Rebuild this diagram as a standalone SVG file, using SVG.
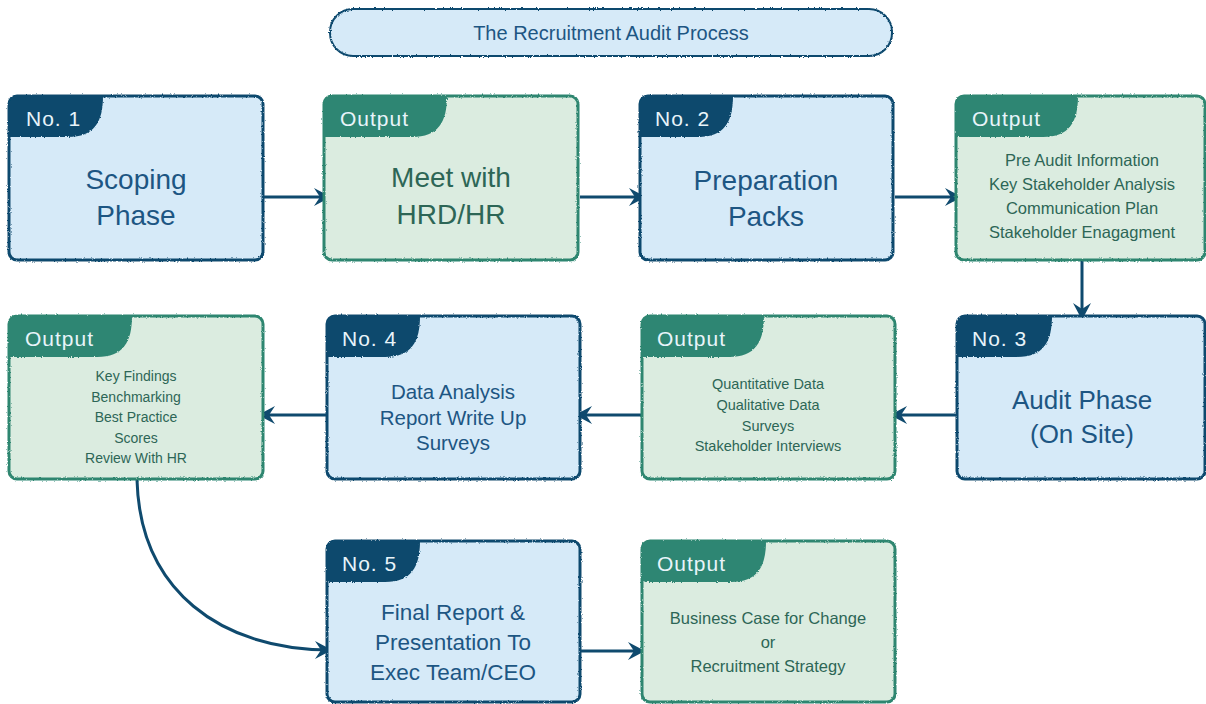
<svg xmlns="http://www.w3.org/2000/svg" width="1206" height="704" viewBox="0 0 1206 704">
<defs>
<style>
.bb{fill:#d6eaf8;stroke:#0f4a6e;stroke-width:3}
.gb{fill:#dbece0;stroke:#2e8670;stroke-width:3}
.bt{fill:#0e4a6d}
.gt{fill:#2e8673}
.tab{font-family:"Liberation Sans",Arial,sans-serif;font-size:21px;fill:#e8f4fa;letter-spacing:1px}
.t{font-family:"Liberation Sans",Arial,sans-serif;text-anchor:middle}
.tb{fill:#1d5683}
.tg{fill:#2d6656}
.c{fill:none;stroke:#0f4a6e;stroke-width:3}
</style>
<filter id="rough" x="-5%" y="-5%" width="110%" height="110%">
<feTurbulence type="fractalNoise" baseFrequency="0.8" numOctaves="2" seed="3" result="n"/>
<feDisplacementMap in="SourceGraphic" in2="n" scale="2.5" xChannelSelector="R" yChannelSelector="G"/>
</filter>
<marker id="ah" markerUnits="userSpaceOnUse" markerWidth="20" markerHeight="20" refX="16" refY="9" orient="auto">
<path d="M0,0 L17,9 L0,18 L6,9 Z" fill="#0f4a6e"/>
</marker>
</defs>

<g id="title">
<rect x="330" y="9" width="562" height="47" rx="23" fill="#d6eaf8" stroke="#0f4a6e" stroke-width="2" filter="url(#rough)"/>
<text class="t tb" x="611" y="40" font-size="20">The Recruitment Audit Process</text>
</g>

<g id="connectors">
<path class="c" d="M264,197 L330,197" marker-end="url(#ah)"/>
<path class="c" d="M580,197 L645,197" marker-end="url(#ah)"/>
<path class="c" d="M895,197 L961,197" marker-end="url(#ah)"/>
<path class="c" d="M1082,261 L1082,319" marker-end="url(#ah)"/>
<path class="c" d="M957,415 L891,415" marker-end="url(#ah)"/>
<path class="c" d="M642,415 L576,415" marker-end="url(#ah)"/>
<path class="c" d="M327,415 L259,415" marker-end="url(#ah)"/>
<path class="c" d="M580,651 L644,651" marker-end="url(#ah)"/>
<path class="c" d="M137,480 C140,590 220,650 331,650" marker-end="url(#ah)" stroke-width="2.5"/>
</g>

<g id="n1">
<rect class="bb" x="9" y="96" width="254" height="164" rx="8" filter="url(#rough)"/>
<path class="bt" d="M9,137 L9,104 Q9,96 17,96 L103,96 C103,122 94,137 68,137 Z" filter="url(#rough)"/>
<text class="tab" x="26" y="126">No. 1</text>
<text class="t tb" x="136" y="189" font-size="28">Scoping</text>
<text class="t tb" x="136" y="225" font-size="28">Phase</text>
</g>

<g id="o1">
<rect class="gb" x="324" y="96" width="254" height="164" rx="8" filter="url(#rough)"/>
<path class="gt" d="M324,137 L324,104 Q324,96 332,96 L447,96 C447,122 438,137 412,137 Z" filter="url(#rough)"/>
<text class="tab" x="340" y="126">Output</text>
<text class="t tg" x="451" y="187" font-size="28">Meet with</text>
<text class="t tg" x="451" y="224" font-size="28">HRD/HR</text>
</g>

<g id="n2">
<rect class="bb" x="640" y="96" width="253" height="164" rx="8" filter="url(#rough)"/>
<path class="bt" d="M640,137 L640,104 Q640,96 648,96 L733,96 C733,122 724,137 698,137 Z" filter="url(#rough)"/>
<text class="tab" x="655" y="126">No. 2</text>
<text class="t tb" x="766" y="190" font-size="28">Preparation</text>
<text class="t tb" x="766" y="226" font-size="28">Packs</text>
</g>

<g id="o2">
<rect class="gb" x="956" y="96" width="249" height="164" rx="8" filter="url(#rough)"/>
<path class="gt" d="M956,137 L956,104 Q956,96 964,96 L1078,96 C1078,122 1069,137 1043,137 Z" filter="url(#rough)"/>
<text class="tab" x="972" y="126">Output</text>
<text class="t tg" x="1082" y="166" font-size="16.5">Pre Audit Information</text>
<text class="t tg" x="1082" y="190" font-size="16.5">Key Stakeholder Analysis</text>
<text class="t tg" x="1082" y="214" font-size="16.5">Communication Plan</text>
<text class="t tg" x="1082" y="238" font-size="16.5">Stakeholder Enagagment</text>
</g>

<g id="n3">
<rect class="bb" x="957" y="316" width="248" height="163" rx="8" filter="url(#rough)"/>
<path class="bt" d="M957,357 L957,324 Q957,316 965,316 L1052,316 C1052,342 1043,357 1017,357 Z" filter="url(#rough)"/>
<text class="tab" x="972" y="346">No. 3</text>
<text class="t tb" x="1082" y="409" font-size="26">Audit Phase</text>
<text class="t tb" x="1082" y="443" font-size="26">(On Site)</text>
</g>

<g id="o3">
<rect class="gb" x="642" y="316" width="253" height="163" rx="8" filter="url(#rough)"/>
<path class="gt" d="M642,357 L642,324 Q642,316 650,316 L764,316 C764,342 755,357 729,357 Z" filter="url(#rough)"/>
<text class="tab" x="657" y="346">Output</text>
<text class="t tg" x="768" y="389" font-size="14.5">Quantitative Data</text>
<text class="t tg" x="768" y="410" font-size="14.5">Qualitative Data</text>
<text class="t tg" x="768" y="431" font-size="14.5">Surveys</text>
<text class="t tg" x="768" y="451" font-size="14.5">Stakeholder Interviews</text>
</g>

<g id="n4">
<rect class="bb" x="327" y="316" width="253" height="163" rx="8" filter="url(#rough)"/>
<path class="bt" d="M327,357 L327,324 Q327,316 335,316 L420,316 C420,342 411,357 385,357 Z" filter="url(#rough)"/>
<text class="tab" x="342" y="346">No. 4</text>
<text class="t tb" x="453" y="399" font-size="20.5">Data Analysis</text>
<text class="t tb" x="453" y="425" font-size="20.5">Report Write Up</text>
<text class="t tb" x="453" y="450" font-size="20.5">Surveys</text>
</g>

<g id="o4">
<rect class="gb" x="9" y="316" width="254" height="163" rx="8" filter="url(#rough)"/>
<path class="gt" d="M9,357 L9,324 Q9,316 17,316 L132,316 C132,342 123,357 97,357 Z" filter="url(#rough)"/>
<text class="tab" x="25" y="346">Output</text>
<text class="t tg" x="136" y="381" font-size="14">Key Findings</text>
<text class="t tg" x="136" y="402" font-size="14">Benchmarking</text>
<text class="t tg" x="136" y="422" font-size="14">Best Practice</text>
<text class="t tg" x="136" y="443" font-size="14">Scores</text>
<text class="t tg" x="136" y="463" font-size="14">Review With HR</text>
</g>

<g id="n5">
<rect class="bb" x="327" y="541" width="253" height="161" rx="8" filter="url(#rough)"/>
<path class="bt" d="M327,582 L327,549 Q327,541 335,541 L420,541 C420,567 411,582 385,582 Z" filter="url(#rough)"/>
<text class="tab" x="342" y="571">No. 5</text>
<text class="t tb" x="453" y="620" font-size="22.5">Final Report &amp;</text>
<text class="t tb" x="453" y="650" font-size="22.5">Presentation To</text>
<text class="t tb" x="453" y="680" font-size="22.5">Exec Team/CEO</text>
</g>

<g id="o5">
<rect class="gb" x="642" y="541" width="253" height="161" rx="8" filter="url(#rough)"/>
<path class="gt" d="M642,582 L642,549 Q642,541 650,541 L766,541 C766,567 757,582 731,582 Z" filter="url(#rough)"/>
<text class="tab" x="657" y="571">Output</text>
<text class="t tg" x="768" y="624" font-size="16.5">Business Case for Change</text>
<text class="t tg" x="768" y="648" font-size="16.5">or</text>
<text class="t tg" x="768" y="672" font-size="16.5">Recruitment Strategy</text>
</g>
</svg>
